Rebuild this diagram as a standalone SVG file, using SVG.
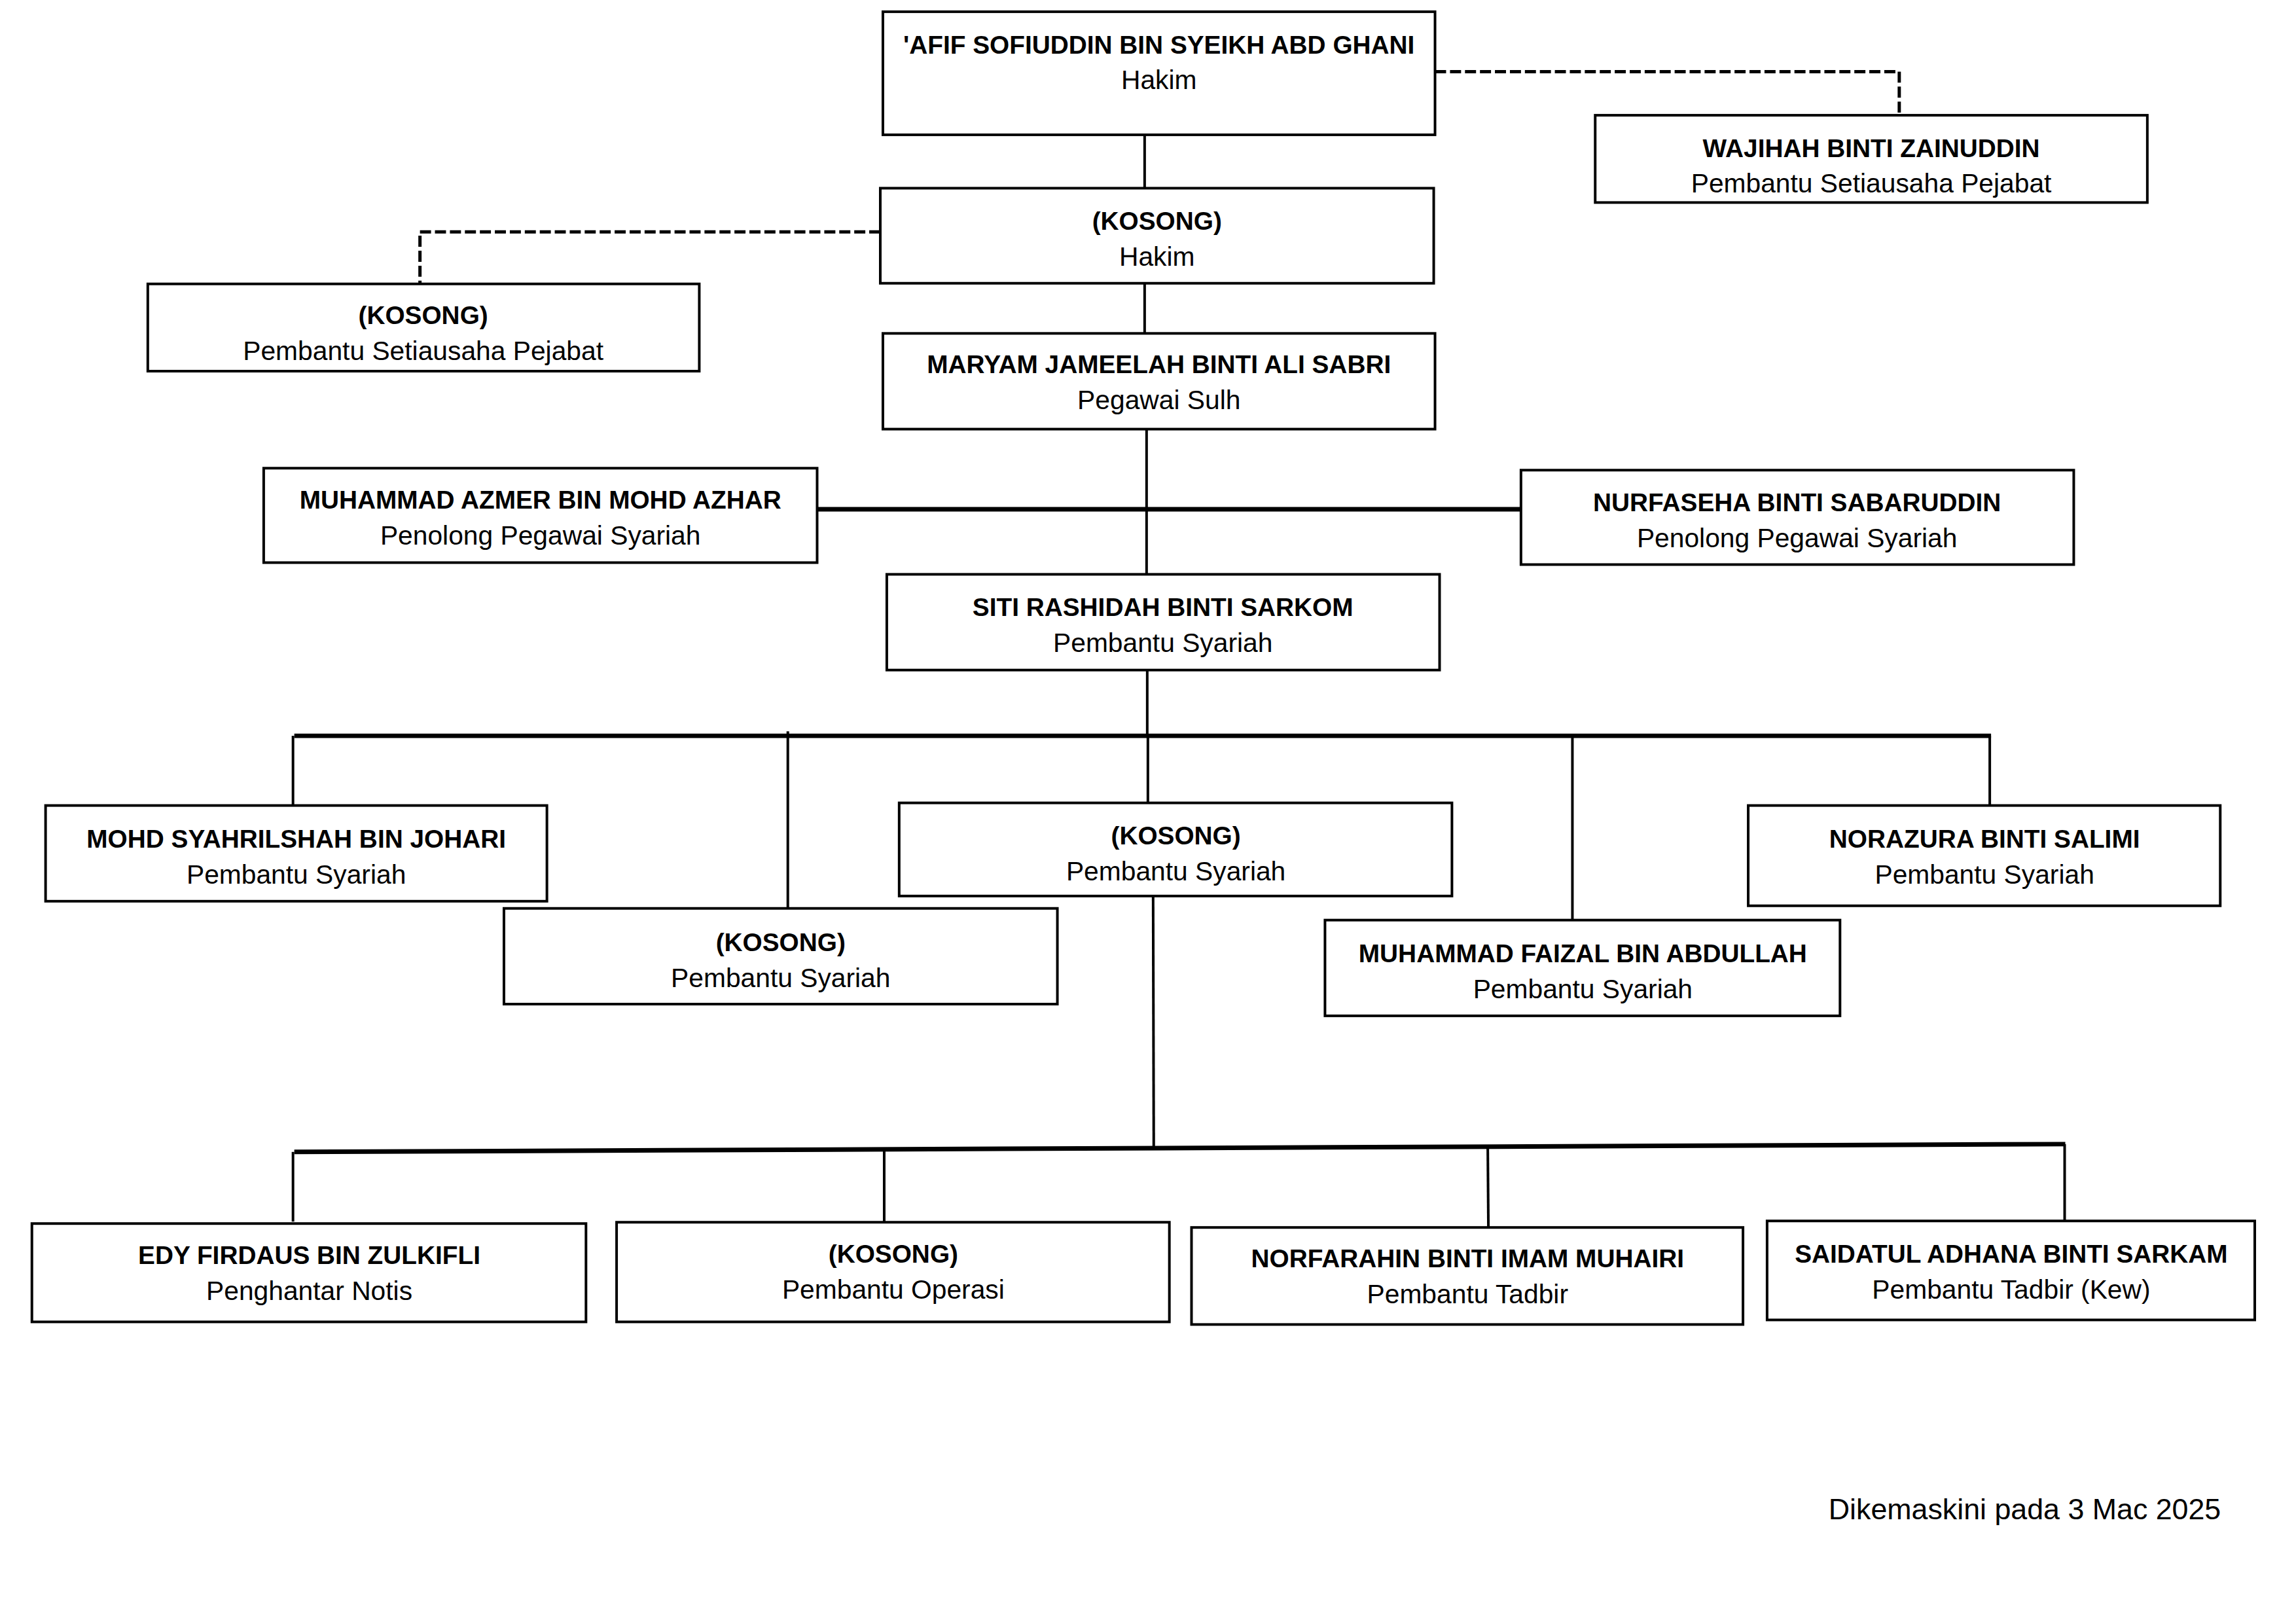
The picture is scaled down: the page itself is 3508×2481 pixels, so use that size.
<svg xmlns="http://www.w3.org/2000/svg" width="3508" height="2481" viewBox="0 0 3508 2481">
<style>
.box{fill:#fff;stroke:#000;stroke-width:4}
.n{font-family:"Liberation Sans",Arial,sans-serif;font-weight:bold;font-size:39px;text-anchor:middle;fill:#000}
.r{font-family:"Liberation Sans",Arial,sans-serif;font-size:41px;text-anchor:middle;fill:#000}
.ln{stroke:#000;stroke-width:4;fill:none}
.bus{stroke:#000;stroke-width:7;fill:none}
.dash{stroke:#000;stroke-width:5;fill:none;stroke-dasharray:17 6}
.date{font-family:"Liberation Sans",Arial,sans-serif;font-size:45px;text-anchor:end;fill:#000}
</style>
<rect width="3508" height="2481" fill="#fff"/>
<g transform="scale(0.9948)">
<g id="connectors">
<path class="dash" d="M2204,110 H2917 V177"/>
<path class="dash" d="M1352,356 H645 V436"/>
<line class="ln" x1="1758" y1="207" x2="1758" y2="289"/>
<line class="ln" x1="1758" y1="435" x2="1758" y2="512"/>
<line class="ln" x1="1761" y1="659" x2="1761" y2="882"/>
<line class="bus" x1="1255" y1="782" x2="2336" y2="782"/>
<line class="ln" x1="1762" y1="1029" x2="1762" y2="1130"/>
<line class="bus" x1="452" y1="1130" x2="3058" y2="1130"/>
<line class="ln" x1="450" y1="1130" x2="450" y2="1238"/>
<line class="ln" x1="1210" y1="1123" x2="1210" y2="1397"/>
<line class="ln" x1="1763" y1="1130" x2="1763" y2="1233"/>
<line class="ln" x1="2415" y1="1130" x2="2415" y2="1413"/>
<line class="ln" x1="3056" y1="1130" x2="3056" y2="1237"/>
<line class="ln" x1="1771" y1="1366" x2="1772" y2="1761"/>
<line class="bus" x1="452" y1="1769" x2="3172" y2="1757"/>
<line class="ln" x1="450" y1="1769" x2="450" y2="1876"/>
<line class="ln" x1="1358" y1="1766" x2="1358" y2="1876"/>
<line class="ln" x1="2285" y1="1763" x2="2286" y2="1889"/>
<line class="ln" x1="3171" y1="1757" x2="3171" y2="1876"/>
</g>
<g id="n1"><rect class="box" x="1356" y="18" width="848" height="189"/><text class="n" x="1780" y="82">'AFIF SOFIUDDIN BIN SYEIKH ABD GHANI</text><text class="r" x="1780" y="137">Hakim</text></g>
<g id="n2"><rect class="box" x="2450" y="177" width="848" height="134"/><text class="n" x="2874" y="241">WAJIHAH BINTI ZAINUDDIN</text><text class="r" x="2874" y="296">Pembantu Setiausaha Pejabat</text></g>
<g id="n3"><rect class="box" x="1352" y="289" width="850" height="146"/><text class="n" x="1777" y="353">(KOSONG)</text><text class="r" x="1777" y="408">Hakim</text></g>
<g id="n4"><rect class="box" x="227" y="436" width="847" height="134"/><text class="n" x="650" y="498">(KOSONG)</text><text class="r" x="650" y="553">Pembantu Setiausaha Pejabat</text></g>
<g id="n5"><rect class="box" x="1356" y="512" width="848" height="147"/><text class="n" x="1780" y="573">MARYAM JAMEELAH BINTI ALI SABRI</text><text class="r" x="1780" y="628">Pegawai Sulh</text></g>
<g id="n6"><rect class="box" x="405" y="719" width="850" height="145"/><text class="n" x="830" y="781">MUHAMMAD AZMER BIN MOHD AZHAR</text><text class="r" x="830" y="836">Penolong Pegawai Syariah</text></g>
<g id="n7"><rect class="box" x="2336" y="722" width="849" height="145"/><text class="n" x="2760" y="785">NURFASEHA BINTI SABARUDDIN</text><text class="r" x="2760" y="840">Penolong Pegawai Syariah</text></g>
<g id="n8"><rect class="box" x="1362" y="882" width="849" height="147"/><text class="n" x="1786" y="946">SITI RASHIDAH BINTI SARKOM</text><text class="r" x="1786" y="1001">Pembantu Syariah</text></g>
<g id="n9"><rect class="box" x="70" y="1237" width="770" height="147"/><text class="n" x="455" y="1302">MOHD SYAHRILSHAH BIN JOHARI</text><text class="r" x="455" y="1357">Pembantu Syariah</text></g>
<g id="n10"><rect class="box" x="774" y="1395" width="850" height="147"/><text class="n" x="1199" y="1461">(KOSONG)</text><text class="r" x="1199" y="1516">Pembantu Syariah</text></g>
<g id="n11"><rect class="box" x="1381" y="1233" width="849" height="143"/><text class="n" x="1806" y="1297">(KOSONG)</text><text class="r" x="1806" y="1352">Pembantu Syariah</text></g>
<g id="n12"><rect class="box" x="2685" y="1237" width="725" height="154"/><text class="n" x="3048" y="1302">NORAZURA BINTI SALIMI</text><text class="r" x="3048" y="1357">Pembantu Syariah</text></g>
<g id="n13"><rect class="box" x="2035" y="1413" width="791" height="147"/><text class="n" x="2431" y="1478">MUHAMMAD FAIZAL BIN ABDULLAH</text><text class="r" x="2431" y="1533">Pembantu Syariah</text></g>
<g id="n14"><rect class="box" x="49" y="1879" width="851" height="151"/><text class="n" x="475" y="1941">EDY FIRDAUS BIN ZULKIFLI</text><text class="r" x="475" y="1996">Penghantar Notis</text></g>
<g id="n15"><rect class="box" x="947" y="1877" width="849" height="153"/><text class="n" x="1372" y="1939">(KOSONG)</text><text class="r" x="1372" y="1994">Pembantu Operasi</text></g>
<g id="n16"><rect class="box" x="1830" y="1885" width="847" height="149"/><text class="n" x="2254" y="1946">NORFARAHIN BINTI IMAM MUHAIRI</text><text class="r" x="2254" y="2001">Pembantu Tadbir</text></g>
<g id="n17"><rect class="box" x="2714" y="1875" width="749" height="152"/><text class="n" x="3089" y="1939">SAIDATUL ADHANA BINTI SARKAM</text><text class="r" x="3089" y="1994">Pembantu Tadbir (Kew)</text></g>
<text class="date" x="3411" y="2333">Dikemaskini pada 3 Mac 2025</text>
</g>
</svg>
